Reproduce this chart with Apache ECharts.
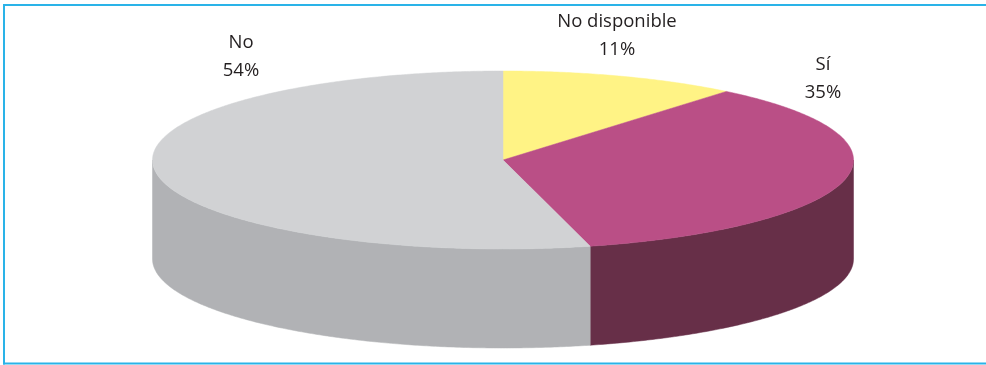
<!DOCTYPE html>
<html>
<head>
<meta charset="utf-8">
<style>
  html, body { margin: 0; padding: 0; background: #fff; overflow: hidden; }
  #chart { width: 986px; height: 365px; }
</style>
<script src="https://cdn.jsdelivr.net/npm/echarts@6/dist/echarts.min.js"></script>
</head>
<body>
<div id="chart"></div>
<script>
// Respuestas (porcentaje del total)
const categories = ['No disponible', 'Sí', 'No'];
const shares = [11, 35, 54];

const topColors = ['#FFF385', '#BA4F86', '#D1D2D4'];
const sideColors = ['#CFC35C', '#672F48', '#B1B2B5'];

// Disc geometry (elliptical top face + extruded wall)
const disc = { cx: 503, cy: 160, rx: 350.5, ry: 89, depth: 99 };
// Label anchors (centre of each two-line label)
const labelAnchors = [[617, 36], [823, 79], [241, 57]];

const total = shares.reduce((a, b) => a + b, 0);

function pt(deg, dy) {
  const r = deg * Math.PI / 180;
  return [disc.cx + disc.rx * Math.sin(r), disc.cy - disc.ry * Math.cos(r) + (dy || 0)];
}

function arc(a, b, dy) {
  const pts = [];
  const n = Math.max(2, Math.ceil(Math.abs(b - a) / 0.5));
  for (let i = 0; i <= n; i++) pts.push(pt(a + (b - a) * i / n, dy));
  return pts;
}

function renderItem(params, api) {
  const i = params.dataIndex;
  const value = api.value(0);
  let before = 0;
  for (let k = 0; k < i; k++) before += shares[k];
  const start = before / total * 360;
  const end = (before + value) / total * 360;
  const children = [];

  // Front wall: only the part facing the viewer (90°..270° measured clockwise from top)
  const s = Math.max(start, 90), e = Math.min(end, 270);
  if (e > s) {
    const wall = arc(s, e, 0).concat(arc(e, s, disc.depth));
    children.push({
      type: 'polygon', z2: 1,
      shape: { points: wall },
      style: { fill: sideColors[i], stroke: sideColors[i], lineWidth: 0.5 }
    });
  }

  // Top face
  const face = [[disc.cx, disc.cy]].concat(arc(start, end, 0));
  children.push({
    type: 'polygon', z2: 2,
    shape: { points: face },
    style: { fill: topColors[i], stroke: topColors[i], lineWidth: 0.5 }
  });

  // Label: name and share
  const pct = Math.round(value / total * 100);
  children.push({
    type: 'text', z2: 3,
    style: {
      text: categories[i] + '\n' + pct + '%',
      x: labelAnchors[i][0], y: labelAnchors[i][1],
      align: 'center', verticalAlign: 'middle',
      fontFamily: '"Open Sans", sans-serif', fontSize: 18.5, lineHeight: 28,
      fill: '#231F20'
    }
  });

  return { type: 'group', children: children };
}

const frame = { stroke: '#2AB3E8', lineWidth: 2 };

const chart = echarts.init(document.getElementById('chart'), null, { renderer: 'canvas' });
chart.setOption({
  animation: false,
  backgroundColor: '#ffffff',
  graphic: [
    { type: 'line', shape: { x1: 3, y1: 5, x2: 986, y2: 5 }, style: frame },
    { type: 'line', shape: { x1: 4, y1: 4, x2: 4, y2: 364.5 }, style: frame },
    { type: 'line', shape: { x1: 3, y1: 363.5, x2: 986, y2: 363.5 }, style: frame }
  ],
  series: [{
    type: 'custom',
    coordinateSystem: 'none',
    renderItem: renderItem,
    data: shares
  }]
});
</script>
</body>
</html>
